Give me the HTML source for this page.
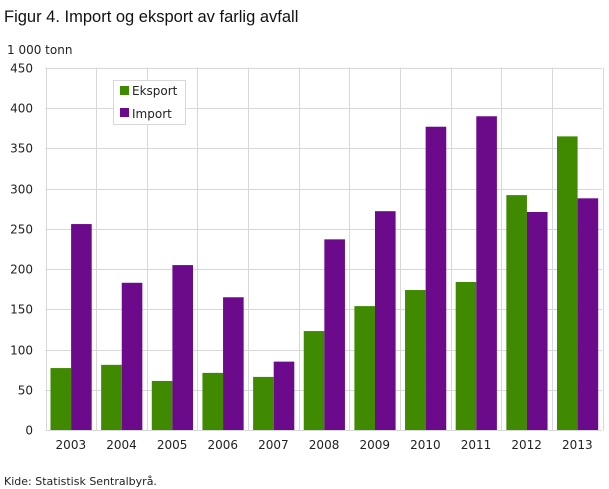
<!DOCTYPE html>
<html><head><meta charset="utf-8"><style>
body{margin:0;background:#fff;}
svg{display:block;font-family:"DejaVu Sans","Liberation Sans",sans-serif;}
</style></head><body>
<svg width="609" height="489" viewBox="0 0 609 489" xmlns="http://www.w3.org/2000/svg">
<text x="4" y="22" font-size="16.5" fill="#111" font-family="Liberation Sans, sans-serif">Figur 4. Import og eksport av farlig avfall</text>
<text x="7" y="54" font-size="12" fill="#222">1 000 tonn</text>
<g id="grid" stroke="#d8d8d8" stroke-width="1"></g>
<g id="bars"></g>
<g id="labels" font-size="12" fill="#222"></g>
<rect x="113.5" y="80.5" width="72" height="44" fill="#fff" stroke="#d8d8d8"/>
<rect x="120" y="86" width="9" height="9" fill="#3f8a00"/>
<text x="132" y="95" font-size="12" fill="#222">Eksport</text>
<rect x="120" y="108" width="9" height="9" fill="#6b0a8a"/>
<text x="132" y="118" font-size="12" fill="#222">Import</text>
<text x="4" y="485" font-size="11" fill="#222">Kide: Statistisk Sentralbyrå.</text>
<script>
var ns="http://www.w3.org/2000/svg";
function el(p,t,a,txt){var e=document.createElementNS(ns,t);for(var k in a)e.setAttribute(k,a[k]);if(txt)e.textContent=txt;document.getElementById(p).appendChild(e);}
var y0=430,s=362/450,x0=45.5,gw=50.65;
for(var v=0;v<=450;v+=50){var y=Math.round(y0-v*s)+0.5;el("grid","line",{x1:x0,x2:602,y1:y,y2:y});el("labels","text",{x:33,y:y+4,"text-anchor":"end"},String(v));}
for(var i=0;i<=11;i++){var x=Math.round(x0+i*gw)+0.5;el("grid","line",{x1:x,x2:x,y1:67.5,y2:430.5});}
var e=[77,81,61,71,66,123,154,174,184,292,365],im=[256,183,205,165,85,237,272,377,390,271,288];
for(var i=0;i<11;i++){var gx=x0+i*gw;
el("bars","rect",{x:gx+5,y:y0-e[i]*s,width:20.6,height:e[i]*s,fill:"#3f8a00"});
el("bars","rect",{x:gx+25.6,y:y0-im[i]*s,width:20.6,height:im[i]*s,fill:"#6b0a8a"});
el("labels","text",{x:gx+gw/2,y:449,"text-anchor":"middle"},String(2003+i));}
</script>
</svg>
</body></html>
